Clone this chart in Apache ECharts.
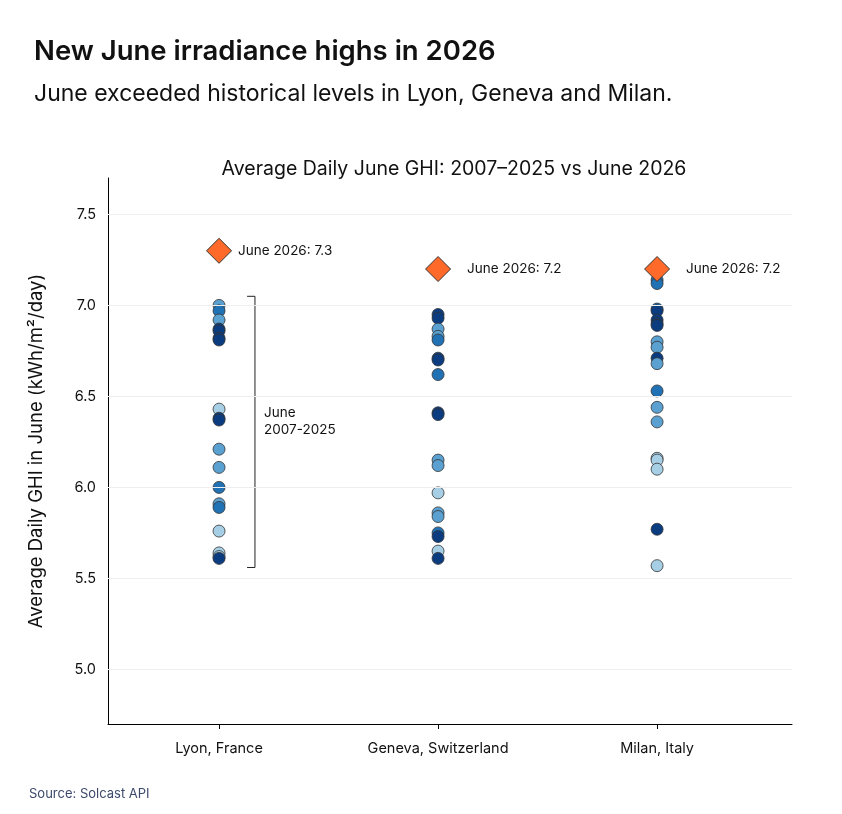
<!DOCTYPE html>
<html><head><meta charset="utf-8">
<script src="https://cdn.jsdelivr.net/npm/echarts@6/dist/echarts.min.js"></script>
<style>html,body{margin:0;padding:0;background:#fff}#c{width:842px;height:814px}</style>
</head><body><div id="c"></div>
<script>
const cities = ['Lyon, France','Geneva, Switzerland','Milan, Italy'];
const lyon = [7.00,6.97,6.92,6.87,6.86,6.82,6.81,6.43,6.38,6.37,6.21,6.11,6.00,5.91,5.89,5.76,5.64,5.62,5.61];
const lyonShade = [1,2,1,3,3,3,3,0,3,3,1,1,2,1,2,0,0,0,3];
const geneva = [6.95,6.93,6.87,6.83,6.81,6.71,6.70,6.62,6.41,6.40,6.15,6.12,5.97,5.86,5.84,5.75,5.73,5.65,5.61];
const genevaShade = [3,3,1,1,2,3,3,2,3,3,1,1,0,1,1,2,3,0,3];
const milan = [7.14,7.12,6.98,6.97,6.92,6.90,6.89,6.80,6.77,6.71,6.68,6.53,6.44,6.36,6.16,6.15,6.10,5.77,5.57];
const milanShade = [2,2,2,3,3,3,3,1,1,3,1,2,1,1,0,0,0,3,0];
const june2026 = [7.3,7.2,7.2];
const yTicks = [5.0,5.5,6.0,6.5,7.0,7.5];
const shades = ['#a6cee4','#5aa0d0','#2171b5','#0b3c80'];

const pts = [];
[lyon,geneva,milan].forEach((arr,i)=>{
  const sh=[lyonShade,genevaShade,milanShade][i];
  arr.forEach((v,j)=>pts.push({value:[i,v],itemStyle:{color:shades[sh[j]]}}));
});
const labelGap=[6,16,16];
const font='Inter, "Noto Sans", sans-serif';
const chart = echarts.init(document.getElementById('c'));
chart.setOption({
  animation:false,
  textStyle:{fontFamily:font},
  title:[
    {text:'New June irradiance highs in 2026',left:29,top:33,textStyle:{fontSize:27.5,fontWeight:600,color:'#111',fontFamily:font}},
    {text:'June exceeded historical levels in Lyon, Geneva and Milan.',left:29,top:78,textStyle:{fontSize:23,fontWeight:400,color:'#111',fontFamily:font}},
    {text:'Average Daily June GHI: 2007–2025 vs June 2026',left:449,textAlign:'center',top:154,textStyle:{fontSize:19.5,fontWeight:400,color:'#111',fontFamily:font}},
    {text:'Source: Solcast API',left:24,top:783,textStyle:{fontSize:13,fontWeight:400,color:'#3d4a6b',fontFamily:font}}
  ],
  grid:{left:108,right:50,top:178,bottom:90},
  xAxis:{type:'value',min:-0.507,max:2.616,
    axisLine:{show:true,onZero:false,lineStyle:{color:'#000'}},splitLine:{show:false},
    axisTick:{show:true,customValues:[0,1,2],length:5,lineStyle:{color:'#000'}},
    axisLabel:{customValues:[0,1,2],formatter:v=>cities[Math.round(v)],fontSize:14.5,color:'#111',margin:17}},
  yAxis:{type:'value',min:4.7,max:7.7,
    name:'Average Daily GHI in June (kWh/m²/day)',nameLocation:'middle',nameGap:62,nameTextStyle:{fontSize:18.5,color:'#111'},
    axisLine:{show:true,onZero:false,lineStyle:{color:'#000'}},splitLine:{show:false},
    axisTick:{show:false},
    axisLabel:{customValues:yTicks,formatter:v=>v.toFixed(1),fontSize:14.5,color:'#111',margin:12}},
  series:[
    {type:'line',data:[],markLine:{silent:true,symbol:'none',label:{show:false},
      lineStyle:{color:'#eeeeee',type:'solid',width:1},data:yTicks.map(v=>({yAxis:v}))}},
    {type:'scatter',data:pts,symbolSize:12,z:3,itemStyle:{borderColor:'#333',borderWidth:0.8,opacity:1}},
    {type:'line',data:[[0.128,7.05],[0.164,7.05],[0.164,5.56],[0.128,5.56]],symbol:'none',
      lineStyle:{color:'#222',width:1},z:2,
      markPoint:{symbol:'circle',symbolSize:0,data:[{coord:[0.21,6.36],label:{show:true,position:'right',offset:[-6,0],formatter:'June\n2007-2025',align:'left',fontSize:13.5,color:'#111',lineHeight:17}}]}},
    {type:'scatter',data:june2026.map((v,i)=>({value:[i,v],label:{distance:labelGap[i]}})),symbol:'diamond',symbolSize:[25,25],z:4,
      itemStyle:{color:'#ff6a2a',borderColor:'#333',borderWidth:1,opacity:1},
      label:{show:true,position:'right',formatter:p=>'June 2026: '+p.value[1].toFixed(1),fontSize:13.5,color:'#111'}}
  ]
});
</script></body></html>
